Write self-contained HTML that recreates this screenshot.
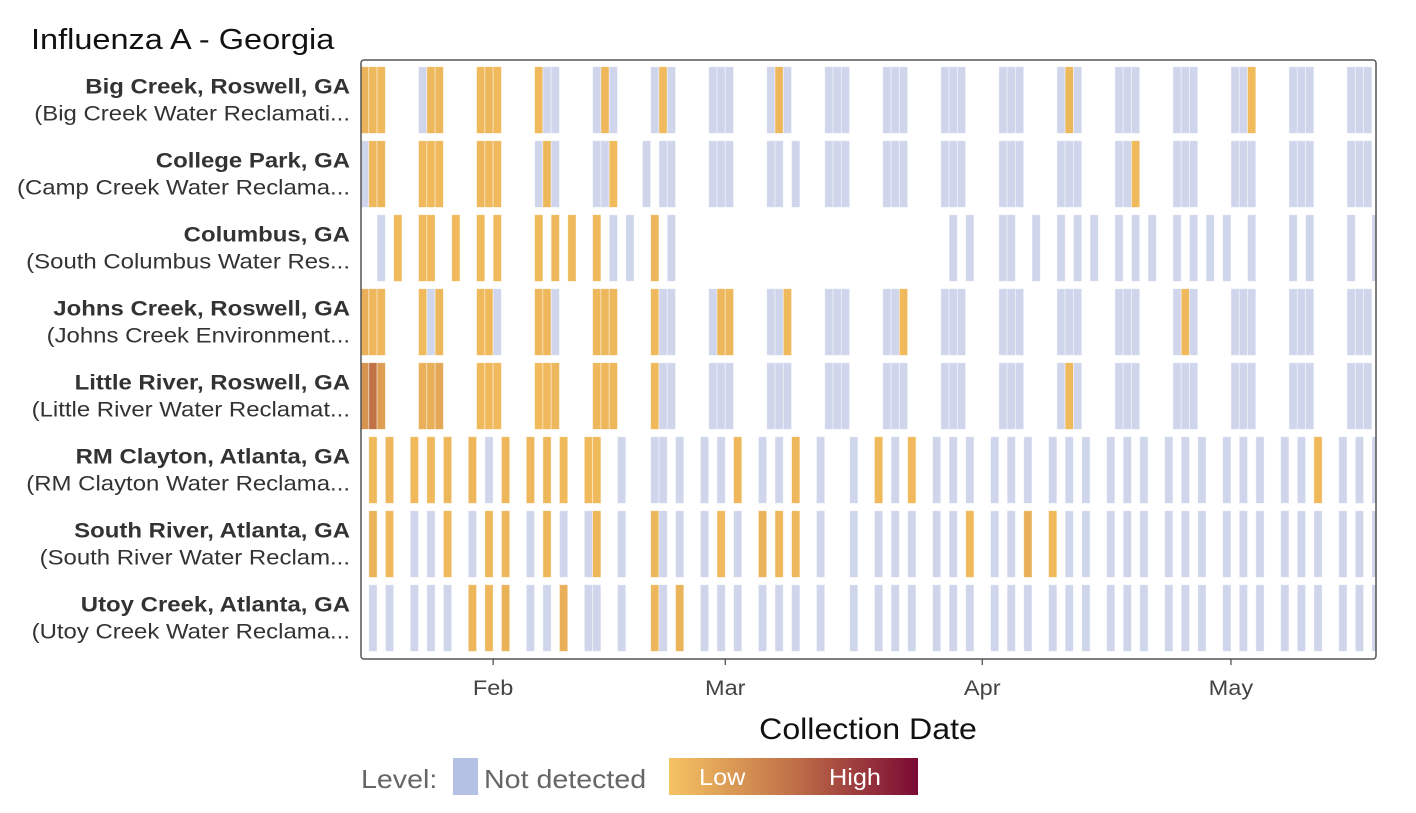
<!DOCTYPE html>
<html><head><meta charset="utf-8"><style>
body{margin:0;background:#fff;width:1416px;height:808px;overflow:hidden;font-family:"Liberation Sans",sans-serif}
</style></head><body>
<svg id="chart" width="1416" height="808" xmlns="http://www.w3.org/2000/svg">
<defs><linearGradient id="lvl" x1="0" x2="1" y1="0" y2="0"><stop offset="0" stop-color="#f6c462"/><stop offset="0.5" stop-color="#c07048"/><stop offset="1" stop-color="#7a0a34"/></linearGradient>
<clipPath id="plotclip"><rect x="361" y="60" width="1015" height="599"/></clipPath></defs>
<text class="sc" data-f="1.12" x="31" y="49" font-size="29" fill="#111">Influenza A - Georgia</text>
<g id="cells" clip-path="url(#plotclip)"></g>
<g id="labels"></g>
<rect x="361" y="60" width="1015" height="599" rx="3" fill="none" stroke="#555" stroke-width="1.5"/>
<g id="xaxis"></g>
<text class="sc" data-f="1.07" x="868" y="739" font-size="30" text-anchor="middle" fill="#111">Collection Date</text>
<g>
<text class="sc" data-f="1.1" x="361" y="788" font-size="26" fill="#666">Level:</text>
<rect x="453" y="758" width="25" height="37" fill="#b4c1e2"/>
<text class="sc" data-f="1.1" x="484" y="788" font-size="26" fill="#666">Not detected</text>
<rect x="669" y="758" width="249" height="37" fill="url(#lvl)"/>
<text class="sc" data-f="1.1" x="699" y="785" font-size="23" fill="#fff">Low</text>
<text class="sc" data-f="1.1" x="829" y="785" font-size="23" fill="#fff">High</text>
</g>
</svg>
<script>
// day offsets from Jan 16; level 0 = not detected, >0 = detected level (0..1)
const rowNames=["Big Creek, Roswell, GA","College Park, GA","Columbus, GA","Johns Creek, Roswell, GA","Little River, Roswell, GA","RM Clayton, Atlanta, GA","South River, Atlanta, GA","Utoy Creek, Atlanta, GA"];
const rowSubs=["(Big Creek Water Reclamati...","(Camp Creek Water Reclama...","(South Columbus Water Res...","(Johns Creek Environment...","(Little River Water Reclamat...","(RM Clayton Water Reclama...","(South River Water Reclam...","(Utoy Creek Water Reclama..."];
const tickDays=[16,44,75,105];
const tickLabels=["Feb","Mar","Apr","May"];
const r0Days=[0,1,2,7,8,9,14,15,16,21,22,23,28,29,30,35,36,37,42,43,44,49,50,51,56,57,58,63,64,65,70,71,72,77,78,79,84,85,86,91,92,93,98,99,100,105,106,107,112,113,114,119,120,121];
const r0Lv=[.1,.08,.06,0,.08,.08,.06,.08,.06,.06,0,0,0,.07,0,0,.06,0,0,0,0,0,.07,0,0,0,0,0,0,0,0,0,0,0,0,0,0,.08,0,0,0,0,0,0,0,0,0,.05,0,0,0,0,0,0];
const r1Days=[0,1,2,7,8,9,14,15,16,21,22,23,28,29,30,34,36,37,42,43,44,49,50,52,56,57,58,63,64,65,70,71,72,77,78,79,84,85,86,91,92,93,98,99,100,105,106,107,112,113,114,119,120,121];
const r1Lv=[0,.08,.09,.06,.06,.06,.07,.06,.06,0,.08,0,0,0,.06,0,0,0,0,0,0,0,0,0,0,0,0,0,0,0,0,0,0,0,0,0,0,0,0,0,0,.06,0,0,0,0,0,0,0,0,0,0,0,0];
const r2Days=[2,4,7,8,11,14,16,21,23,25,28,30,32,35,37,71,73,77,78,81,84,86,88,91,93,95,98,100,102,104,107,112,114,119,122];
const r2Lv=[0,.06,.06,.06,.06,.06,.06,.06,.07,.06,.06,0,0,.07,0,0,0,0,0,0,0,0,0,0,0,0,0,0,0,0,0,0,0,0,0];
const r3Days=[0,1,2,7,8,9,14,15,16,21,22,23,28,29,30,35,36,37,42,43,44,49,50,51,56,57,58,63,64,65,70,71,72,77,78,79,84,85,86,91,92,93,98,99,100,105,106,107,112,113,114,119,120,121];
const r3Lv=[.12,.07,.07,.06,0,.07,.06,.06,0,.07,.07,0,.07,.08,.07,.06,0,0,0,.07,.08,0,0,.06,0,0,0,0,0,.06,0,0,0,0,0,0,0,0,0,0,0,0,0,.06,0,0,0,0,0,0,0,0,0,0];
const r4Days=[0,1,2,7,8,9,14,15,16,21,22,23,28,29,30,35,36,37,42,43,44,49,50,51,56,57,58,63,64,65,70,71,72,77,78,79,84,85,86,91,92,93,98,99,100,105,106,107,112,113,114,119,120,121];
const r4Lv=[.3,.5,.22,.12,.13,.17,.06,.06,.06,.05,.06,.08,.07,.07,.07,.06,0,0,0,0,0,0,0,0,0,0,0,0,0,0,0,0,0,0,0,0,0,.06,0,0,0,0,0,0,0,0,0,0,0,0,0,0,0,0];
const r5Days=[1,3,6,8,10,13,15,17,20,22,24,27,28,31,35,36,38,41,43,45,48,50,52,55,59,62,64,66,69,71,73,76,78,80,83,85,87,90,92,94,97,99,101,104,106,108,111,113,115,118,120,122];
const r5Lv=[.06,.07,.06,.06,.07,.07,0,.07,.07,.07,.06,.06,.06,0,0,0,0,0,0,.07,0,0,.07,0,0,.06,0,.06,0,0,0,0,0,0,0,0,0,0,0,0,0,0,0,0,0,0,0,0,.06,0,0,0];
const r6Days=[1,3,6,8,10,13,15,17,20,22,24,27,28,31,35,36,38,41,43,45,48,50,52,55,59,62,64,66,69,71,73,76,78,80,83,85,87,90,92,94,97,99,101,104,106,108,111,113,115,118,120,122];
const r6Lv=[.1,.06,0,0,.06,0,.08,.08,0,.07,0,0,.07,0,.08,0,0,0,.06,0,.1,.07,.08,0,0,0,0,0,0,0,.06,0,0,.12,.06,0,0,0,0,0,0,0,0,0,0,0,0,0,0,0,0,0];
const r7Days=[1,3,6,8,10,13,15,17,20,22,24,27,28,31,35,36,38,41,43,45,48,50,52,55,59,62,64,66,69,71,73,76,78,80,83,85,87,90,92,94,97,99,101,104,106,108,111,113,115,118,120,122];
const r7Lv=[0,0,0,0,0,.07,.07,.11,0,0,.12,0,0,0,.07,0,.1,0,0,0,0,0,0,0,0,0,0,0,0,0,0,0,0,0,0,0,0,0,0,0,0,0,0,0,0,0,0,0,0,0,0,0];
const rowDays=[r0Days,r1Days,r2Days,r3Days,r4Days,r5Days,r6Days,r7Days];
const rowLevels=[r0Lv,r1Lv,r2Lv,r3Lv,r4Lv,r5Lv,r6Lv,r7Lv];

const X0=360.5, DW=8.29, Y0=66.7, PITCH=74, CH=66.7;
function xScale(d){return X0+d*DW;}
function yScale(i){return Y0+i*PITCH;}
function lerp(a,b,t){return a+(b-a)*t;}
function color(v){
  if(v<=0) return "#cfd6ec";
  const s=[[246,196,98],[192,112,72],[122,10,52]];
  let t=Math.min(1,v)*2, i=t<1?0:1; t=t-i;
  const c=s[i].map((a,k)=>Math.round(lerp(a,s[i+1][k],t)));
  return `rgb(${Math.round(c[0]*0.97+7)},${Math.round(c[1]*0.97+5)},${Math.round(c[2]*0.97)})`;
}
const NS="http://www.w3.org/2000/svg";
const cells=document.getElementById('cells');
rowDays.forEach((days,r)=>{
  days.forEach((d,k)=>{
    const el=document.createElementNS(NS,'rect');
    el.setAttribute('x',xScale(d));
    el.setAttribute('y',yScale(r));
    el.setAttribute('width',DW);
    el.setAttribute('height',CH);
    el.setAttribute('fill',color(rowLevels[r][k]));
    el.setAttribute('stroke','rgba(255,255,255,0.55)');
    el.setAttribute('stroke-width','0.8');
    
    
    cells.appendChild(el);
  });
});
const labels=document.getElementById('labels');
rowNames.forEach((n,i)=>{
  const t=document.createElementNS(NS,'text');
  t.setAttribute('x',350);t.setAttribute('y',yScale(i)+27);
  t.setAttribute('text-anchor','end');t.setAttribute('font-size','21');t.setAttribute('font-weight','bold');t.setAttribute('fill','#333');
  t.setAttribute('class','sc');t.setAttribute('data-f','1.14');
  t.textContent=n;
  
  
  labels.appendChild(t);
  const s=document.createElementNS(NS,'text');
  s.setAttribute('x',350);s.setAttribute('y',yScale(i)+54);
  s.setAttribute('text-anchor','end');s.setAttribute('font-size','21');s.setAttribute('fill','#333');
  s.setAttribute('class','sc');s.setAttribute('data-f','1.14');
  s.textContent=rowSubs[i];
  
  
  labels.appendChild(s);
});
const xa=document.getElementById('xaxis');
tickDays.forEach((d,i)=>{
  const x=xScale(d);
  const l=document.createElementNS(NS,'line');
  l.setAttribute('x1',x);l.setAttribute('x2',x);l.setAttribute('y1',659);l.setAttribute('y2',665);
  l.setAttribute('stroke','#444');l.setAttribute('stroke-width','1.2');
  
  
  xa.appendChild(l);
  const t=document.createElementNS(NS,'text');
  t.setAttribute('x',x);t.setAttribute('y',695);t.setAttribute('text-anchor','middle');
  t.setAttribute('font-size','21');t.setAttribute('fill','#444');
  t.setAttribute('class','sc');t.setAttribute('data-f','1.12');
  t.textContent=tickLabels[i];
  
  
  xa.appendChild(t);
});
document.querySelectorAll('text.sc').forEach(t=>{
  const f=parseFloat(t.getAttribute('data-f'));
  const len=t.getComputedTextLength();
  t.setAttribute('textLength',(len*f).toFixed(1));
  t.setAttribute('lengthAdjust','spacingAndGlyphs');
});
</script>
</body></html>
